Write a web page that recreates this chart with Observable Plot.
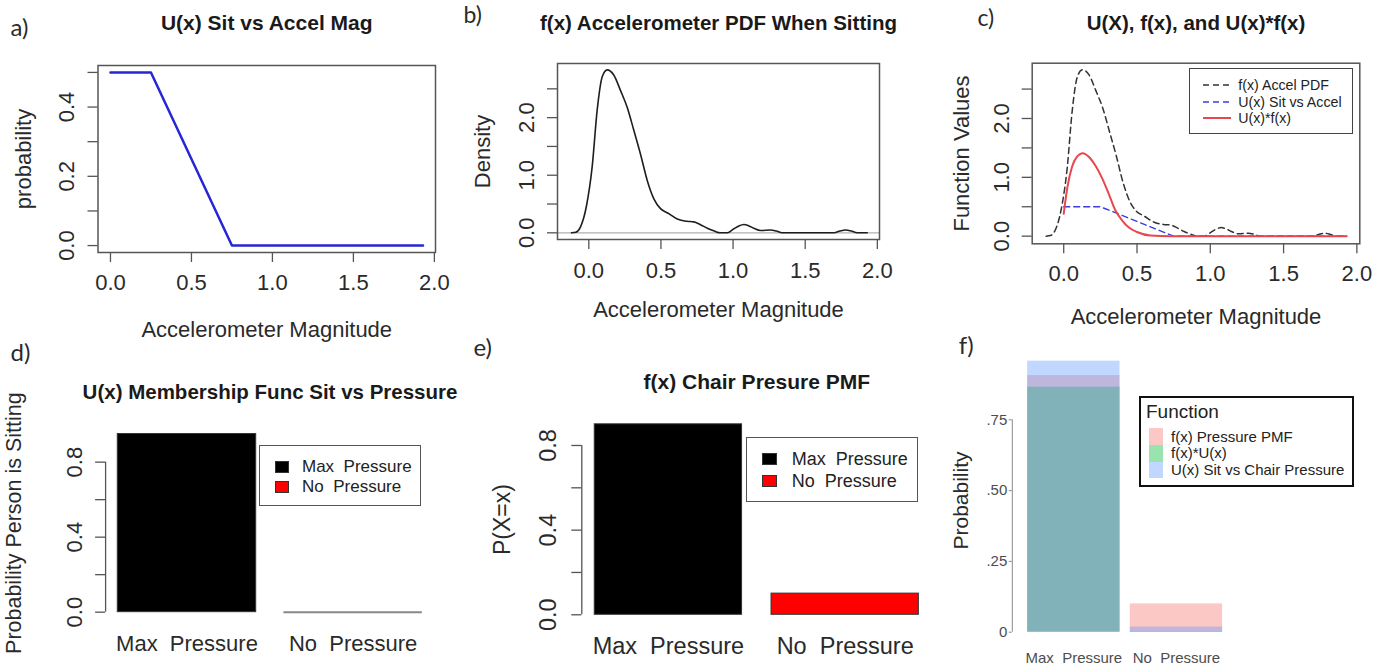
<!DOCTYPE html>
<html><head><meta charset="utf-8">
<script src="https://cdn.jsdelivr.net/npm/d3@7"></script>
<script src="https://cdn.jsdelivr.net/npm/@observablehq/plot@0.6"></script>
<style>
body{margin:0;background:#fff;}
#root{position:relative;width:1387px;height:665px;background:#fff;overflow:hidden;font-family:"Liberation Sans",Arial,sans-serif;}
#root svg{position:absolute;}
.bx{position:absolute;box-sizing:border-box;}
.lt{position:absolute;white-space:pre;color:#222;font-family:"Liberation Sans",Arial,sans-serif;}
</style></head><body><div id="root"></div><script>
// ---------------- data ----------------
// U(x) Sit vs Accelerometer magnitude (panels a, c)
const uAccelX = [0, 0.25, 0.75, 1.93];
const uAccelY = [0.5, 0.5, 0, 0];
// f(x) accelerometer PDF when sitting (panels b, c)
const pdfX = [-0.12, -0.09, -0.058, -0.016, 0.023, 0.058, 0.093, 0.128, 0.173, 0.22, 0.266, 0.312, 0.358, 0.405, 0.451, 0.497, 0.55, 0.613, 0.68, 0.728, 0.774, 0.821, 0.87, 0.91, 0.96, 1.006, 1.04, 1.075, 1.11, 1.144, 1.19, 1.26, 1.30, 1.34, 1.40, 1.55, 1.70, 1.74, 1.78, 1.82, 1.86, 1.93];
const pdfY = [0, 0.01, 0.1, 0.47, 1.14, 2.13, 2.71, 2.83, 2.74, 2.47, 2.18, 1.78, 1.37, 0.91, 0.59, 0.42, 0.34, 0.24, 0.2, 0.19, 0.14, 0.08, 0.03, 0.0, 0.0, 0.07, 0.12, 0.145, 0.12, 0.08, 0.04, 0.05, 0.03, 0.0, 0, 0, 0, 0.03, 0.05, 0.03, 0.0, 0];
// U(x)*f(x) (panel c)
const prodX = [0, 0.025, 0.057, 0.091, 0.13, 0.171, 0.216, 0.261, 0.307, 0.352, 0.398, 0.443, 0.5, 0.591, 0.727, 1.93];
const prodY = [0.38, 0.83, 1.18, 1.35, 1.41, 1.35, 1.20, 0.99, 0.72, 0.44, 0.27, 0.15, 0.07, 0.01, 0, 0];
// Pressure categories (panels d, e, f)
const pressureCats = ["Max\u00a0 Pressure", "No\u00a0 Pressure"];
const barColors = ["#000000", "#ff0000"];
const uPressure = [0.95, 0];      // panel d
const pmfPressure = [0.9, 0.1];   // panel e
// panel f
const fFunctions = ["f(x) Pressure PMF", "f(x)*U(x)", "U(x) Sit vs Chair Pressure"];
const fColors = ["#F8766D", "#00BA38", "#619CFF"];
const fPMF = [0.906, 0.1];
const fProd = [0.865, 0.002];
const fU = [0.957, 0.018];
// ticks
const accelTicks = [0, 0.5, 1, 1.5, 2];
const uTicks = [0, 0.1, 0.2, 0.3, 0.4, 0.5];
const uTickLabels = [0, 0.2, 0.4];
const densTicks = [0, 0.5, 1, 1.5, 2, 2.5];
const densTickLabels = [0, 1, 2];
const barTicks = [0, 0.2, 0.4, 0.6, 0.8];
const barTickLabels = [0, 0.4, 0.8];
const fTicks = [0, 0.25, 0.5, 0.75];

// ---------------- helpers ----------------
const root = document.getElementById("root");
const FONT = "Liberation Sans, Arial, sans-serif";
const LETTER = "Lato, Open Sans, sans-serif";
const AX = "#555", TX = "#2a2a2a";
const f1 = d3.format(".1f");

function T(s, x, y, m, o = {}) {
  return Plot.text([s], {text: d => d, frameAnchor: "top-left", dx: x - m.l, dy: y - m.t,
    lineAnchor: o.line ?? "bottom", textAnchor: o.anchor ?? "middle", rotate: o.rotate ?? 0,
    fontSize: o.size ?? 22, fontWeight: o.weight ?? "normal", fontFamily: o.family ?? FONT, fill: o.fill ?? TX});
}
function mk(W, H, m, xs, ys, marks, left, top, extra = {}) {
  const svg = Plot.plot({width: W, height: H, marginLeft: m.l, marginRight: m.r, marginTop: m.t, marginBottom: m.b,
    x: xs, y: ys, ...extra,
    style: {background: "transparent", overflow: "visible", fontFamily: FONT, maxWidth: "none"}, marks});
  svg.style.left = left + "px"; svg.style.top = top + "px";
  root.appendChild(svg);
}
function yAxisLine(m, W, ticks, stroke, sw) {
  return Plot.ruleX([ticks], {x: null, y1: d => d[0], y2: d => d[d.length - 1],
    dx: m.l - (m.l + W - m.r) / 2, stroke, strokeWidth: sw});
}
const pts = (xs, ys) => xs.map((x, i) => ({x, y: ys[i]}));
const uData = pts(uAccelX, uAccelY), pdfData = pts(pdfX, pdfY), prodData = pts(prodX, prodY);

// ---------------- panel a ----------------
{
  const W = 460, H = 345, m = {l: 97.5, r: 25, t: 65, b: 93};
  mk(W, H, m, {domain: [-0.077, 2.007]}, {domain: [-0.02, 0.52]}, [
    Plot.frame({stroke: AX, strokeWidth: 1.5}),
    Plot.axisX(accelTicks, {tickSize: 10, tickPadding: 12, tickFormat: f1, fontSize: 22, stroke: AX, fill: TX, strokeWidth: 1.3, label: null}),
    Plot.axisY(uTicks, {tickSize: 10, tickPadding: 14, tickRotate: -90, tickFormat: d => uTickLabels.includes(d) ? f1(d) : "", fontSize: 22, stroke: AX, fill: TX, strokeWidth: 1.3, label: null}),
    Plot.line(uData, {x: "x", y: "y", stroke: "#2626d6", strokeWidth: 2.5}),
    T("U(x) Sit vs Accel Mag", 266.25, 29.5, m, {size: 21, weight: "bold", fill: "#1a1a1a"}),
    T("a)", 10, 35, m, {anchor: "start", size: 24, family: LETTER}),
    T("Accelerometer Magnitude", 266.25, 336.7, m),
    T("probability", 30.5, 158.5, m, {rotate: -90})
  ], 0, 0);
}
// ---------------- panel b ----------------
{
  const W = 460, H = 345, m = {l: 97, r: 41, t: 63, b: 106};
  mk(W, H, m, {domain: [-0.217, 2.015]}, {domain: [-0.116, 2.94]}, [
    Plot.ruleY([0], {stroke: "#b0b0b0", strokeWidth: 1.3}),
    Plot.frame({stroke: AX, strokeWidth: 1.5}),
    Plot.axisX(accelTicks, {tickSize: 10, tickPadding: 12.5, tickFormat: f1, fontSize: 22, stroke: AX, fill: TX, strokeWidth: 1.3, label: null}),
    Plot.axisY(densTicks, {tickSize: 10, tickPadding: 13.7, tickRotate: -90, tickFormat: d => densTickLabels.includes(d) ? f1(d) : "", fontSize: 22, stroke: AX, fill: TX, strokeWidth: 1.3, label: null}),
    Plot.line(pdfData, {x: "x", y: "y", curve: "monotone-x", stroke: "#1e1e1e", strokeWidth: 1.6}),
    T("f(x) Accelerometer PDF When Sitting", 258, 29.5, m, {size: 20.5, weight: "bold", fill: "#1a1a1a"}),
    T("b)", 3, 22, m, {anchor: "start", size: 23, family: LETTER}),
    T("Accelerometer Magnitude", 258, 316.7, m),
    T("Density", 29.5, 151, m, {rotate: -90})
  ], 460, 0);
}
// ---------------- panel c ----------------
{
  const W = 467, H = 345, m = {l: 111.7, r: 27.7, t: 62.7, b: 101.7};
  mk(W, H, m, {domain: [-0.215, 2.02]}, {domain: [-0.13, 2.94]}, [
    Plot.frame({stroke: AX, strokeWidth: 1.5}),
    Plot.axisX(accelTicks, {tickSize: 10, tickPadding: 11.7, tickFormat: f1, fontSize: 22, stroke: AX, fill: TX, strokeWidth: 1.3, label: null}),
    Plot.axisY(densTicks, {tickSize: 10, tickPadding: 13.4, tickRotate: -90, tickFormat: d => densTickLabels.includes(d) ? f1(d) : "", fontSize: 22, stroke: AX, fill: TX, strokeWidth: 1.3, label: null}),
    Plot.line(pdfData, {x: "x", y: "y", curve: "monotone-x", stroke: "#333", strokeWidth: 1.5, strokeDasharray: "6,4"}),
    Plot.line(uData, {x: "x", y: "y", stroke: "#3b3be0", strokeWidth: 1.4, strokeDasharray: "6,4"}),
    Plot.line(prodData, {x: "x", y: "y", curve: "monotone-x", stroke: "#e8474f", strokeWidth: 2}),
    T("U(X), f(x), and U(x)*f(x)", 275.5, 29.5, m, {size: 20.5, weight: "bold", fill: "#1a1a1a"}),
    T("c)", 57, 25, m, {anchor: "start", size: 23, family: LETTER}),
    T("Accelerometer Magnitude", 275.5, 323.3, m),
    T("Function Values", 48, 153, m, {rotate: -90})
  ], 920, 0);
}
// ---------------- panel d ----------------
{
  const W = 460, H = 320, m = {l: 105.1, r: 26, t: 81.4, b: 46.2};
  const data = pressureCats.map((c, i) => ({c, v: uPressure[i]}));
  mk(W, H, m, {type: "band", domain: pressureCats, paddingInner: 0.1667, paddingOuter: 0.0733, round: false},
    {domain: [-0.038, 0.988]}, [
    Plot.barY(data, {x: "c", y1: 0, y2: "v", fill: "c", stroke: "#333", strokeWidth: 1}),
    Plot.tickY(data, {filter: d => d.v === 0, x: "c", y: "v", stroke: "#888", strokeWidth: 2}),
    yAxisLine(m, W, barTicks, AX, 1.3),
    Plot.axisY(barTicks, {tickSize: 10, tickPadding: 13.4, tickRotate: -90, tickFormat: d => barTickLabels.includes(d) ? f1(d) : "", fontSize: 22, stroke: AX, fill: TX, strokeWidth: 1.3, label: null}),
    Plot.axisX({tickSize: 0, tickPadding: 16.4, fontSize: 22, fill: TX, label: null}),
    T("U(x) Membership Func Sit vs Pressure", 269.5, 53, m, {size: 20.5, weight: "bold", fill: "#1a1a1a"}),
    T("d)", 10, 15, m, {anchor: "start", size: 24, family: LETTER}),
    T("Probability Person is Sitting", 20, 177.6, m, {rotate: -90, size: 21.5})
  ], 0, 345, {color: {domain: pressureCats, range: barColors}});
}
// ---------------- panel e ----------------
{
  const W = 475, H = 320, m = {l: 121.3, r: 3.7, t: 71.2, b: 43.1};
  const data = pressureCats.map((c, i) => ({c, v: pmfPressure[i]}));
  mk(W, H, m, {type: "band", domain: pressureCats, paddingInner: 0.1667, paddingOuter: 0.0733, round: false},
    {domain: [-0.036, 0.936]}, [
    Plot.barY(data, {x: "c", y1: 0, y2: "v", fill: "c", stroke: "#333", strokeWidth: 1}),
    yAxisLine(m, W, barTicks, AX, 1.3),
    Plot.axisY(barTicks, {tickSize: 10, tickPadding: 16.3, tickRotate: -90, tickFormat: d => barTickLabels.includes(d) ? f1(d) : "", fontSize: 23.5, stroke: AX, fill: TX, strokeWidth: 1.3, label: null}),
    Plot.axisX({tickSize: 0, tickPadding: 15.4, fontSize: 23.5, fill: TX, label: null}),
    T("f(x) Chair Presure PMF", 296.3, 43, m, {size: 21, weight: "bold", fill: "#1a1a1a"}),
    T("e)", 13, 10, m, {anchor: "start", size: 24, family: LETTER}),
    T("P(X=x)", 49, 174, m, {rotate: -90, size: 23})
  ], 460, 345, {color: {domain: pressureCats, range: barColors}});
}
// ---------------- panel f ----------------
{
  const W = 467, H = 320, m = {l: 91.8, r: 149.5, t: 3.5, b: 33.3};
  const series = [fPMF, fProd, fU];
  const data = [];
  fFunctions.forEach((fn, k) => pressureCats.forEach((c, i) => data.push({fn, c, v: series[k][i]})));
  mk(W, H, m, {type: "band", domain: pressureCats, paddingInner: 0.1, paddingOuter: 0.15, round: false},
    {domain: [0, 1]}, [
    Plot.barY(data, {x: "c", y1: 0, y2: "v", fill: "fn", fillOpacity: 0.4}),
    yAxisLine(m, W, fTicks, "#8a8a8a", 1),
    Plot.axisY(fTicks, {tickSize: 3, tickPadding: 2, tickFormat: d => d === 0 ? "0" : d3.format(".2f")(d).replace(/^0/, ""), fontSize: 15, stroke: "#8a8a8a", fill: "#4d4d4d", label: null}),
    Plot.axisX({tickSize: 0, tickPadding: 20.6, fontSize: 15, fill: "#4d4d4d", label: null}),
    T("f)", 38.3, 8, m, {anchor: "start", size: 24, family: LETTER}),
    T("Probability", 47.5, 155, m, {rotate: -90, size: 21})
  ], 920, 345, {color: {domain: fFunctions, range: fColors}});
}

// ---------------- HTML legends ----------------
function box(x, y, w, h, css) { const d = document.createElement("div"); d.className = "bx";
  Object.assign(d.style, {left: x + "px", top: y + "px", width: w + "px", height: h + "px"}, css); root.appendChild(d); return d; }
function label(s, x, cy, size, css = {}) { const d = document.createElement("div"); d.className = "lt";
  Object.assign(d.style, {left: x + "px", top: (cy - size) + "px", height: (2 * size) + "px", lineHeight: (2 * size) + "px", fontSize: size + "px"}, css);
  d.textContent = s; root.appendChild(d); return d; }

// panel c legend (lines)
box(1189.3, 67.7, 164, 66.6, {border: "1.5px solid #444"});
const cLeg = [["f(x) Accel PDF", "#333", "6,4"], ["U(x) Sit vs Accel", "#3b3be0", "6,4"], ["U(x)*f(x)", "#e8474f", null]];
const cRows = [85, 101.7, 118.3];
cLeg.forEach(([s, col, dash], i) => {
  const ns = "http://www.w3.org/2000/svg";
  const sv = document.createElementNS(ns, "svg");
  sv.setAttribute("width", 28); sv.setAttribute("height", 6);
  Object.assign(sv.style, {left: "1203px", top: (cRows[i] - 3) + "px"});
  const ln = document.createElementNS(ns, "line");
  ln.setAttribute("x1", 0); ln.setAttribute("x2", 28); ln.setAttribute("y1", 3); ln.setAttribute("y2", 3);
  ln.setAttribute("stroke", col); ln.setAttribute("stroke-width", dash ? 1.4 : 2);
  if (dash) ln.setAttribute("stroke-dasharray", dash);
  sv.appendChild(ln); root.appendChild(sv);
  label(s, 1238.3, cRows[i], 14.2);
});

// panel d legend
box(259.3, 445, 161.4, 61, {border: "1.5px solid #555"});
[466.7, 487.3].forEach((cy, i) => {
  box(275, cy - 6, 14, 12, {background: barColors[i], border: "1px solid #333"});
  label(pressureCats[i], 302, cy, 17);
});
// panel e legend
box(746, 436.7, 172.3, 65, {border: "1.5px solid #555"});
[459.2, 481.2].forEach((cy, i) => {
  box(761.7, cy - 6, 15, 12, {background: barColors[i], border: "1px solid #333"});
  label(pressureCats[i], 791.7, cy, 18);
});
// panel f legend
box(1139, 396, 215, 91.3, {border: "2px solid #111"});
label("Function", 1146, 411.5, 19);
[436.7, 453.3, 470].forEach((cy, i) => {
  const c = d3.color(fColors[i]); c.opacity = 0.4;
  box(1149, cy - 8.35, 14, 16.7, {background: c.formatRgb()});
  label(fFunctions[i], 1171, cy, 15);
});
</script></body></html>
